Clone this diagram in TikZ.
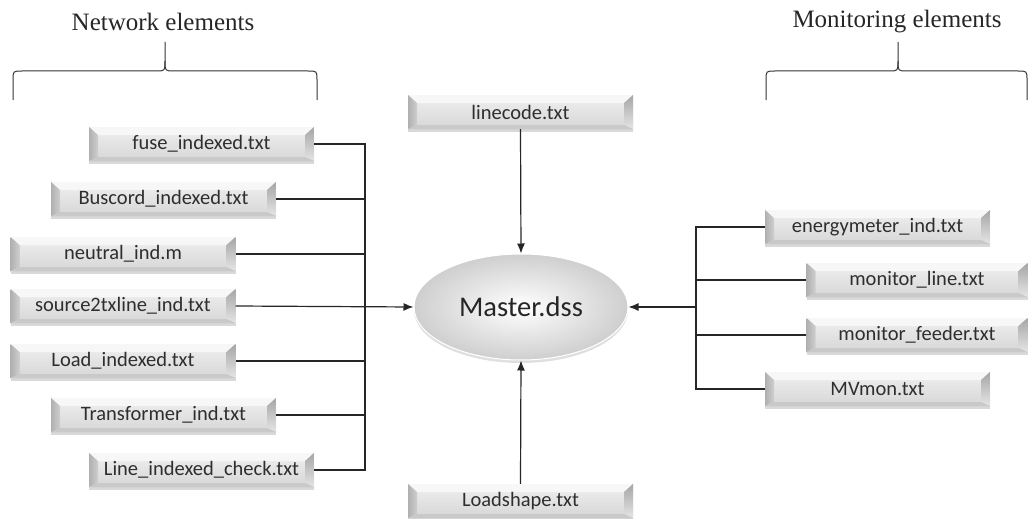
\documentclass[tikz,border=0pt]{standalone}
\usepackage{fontspec}
\newfontfamily\boxfont{Carlito}
\newfontfamily\capfont{Liberation Serif}
\usetikzlibrary{arrows.meta,shadows,shapes.geometric}

\tikzset{
  % grey bevelled file box
  filebox/.style={rectangle, minimum width=225pt, minimum height=34pt, inner sep=0pt,
    font=\boxfont\fontsize{20.5}{24}\selectfont, text=black!82,
    top color=gray!12, bottom color=gray!32,
    drop shadow={shadow xshift=0pt, shadow yshift=-3pt, opacity=0.3},
    path picture={
      % top facet
      \fill[gray!6] (path picture bounding box.north west) -- (path picture bounding box.north east)
        -- ([shift={(-9pt,-8pt)}]path picture bounding box.north east)
        -- ([shift={(9pt,-8pt)}]path picture bounding box.north west) -- cycle;
      % left facet
      \shade[left color=gray!62, right color=gray!38] (path picture bounding box.north west)
        -- ([shift={(9pt,-8pt)}]path picture bounding box.north west)
        -- ([shift={(9pt,4pt)}]path picture bounding box.south west)
        -- (path picture bounding box.south west) -- cycle;
      % right facet
      \shade[top color=gray!70, bottom color=gray!20] (path picture bounding box.north east)
        -- ([shift={(-9pt,-8pt)}]path picture bounding box.north east)
        -- ([shift={(-9pt,4pt)}]path picture bounding box.south east)
        -- (path picture bounding box.south east) -- cycle;
      % bottom facet
      \fill[gray!42] (path picture bounding box.south west)
        -- ([shift={(9pt,4pt)}]path picture bounding box.south west)
        -- ([shift={(-9pt,4pt)}]path picture bounding box.south east)
        -- (path picture bounding box.south east) -- cycle;
    }},
  hub/.style={ellipse, minimum width=214pt, minimum height=106pt, inner sep=0pt,
    font=\boxfont\fontsize{28.5}{32}\selectfont, text=black!85,
    draw=white, line width=1pt,
    shading=radial, inner color=white, outer color=gray!38,
    drop shadow={shadow xshift=0pt, shadow yshift=-3pt, opacity=0.25}},
  link/.style={draw=black!85, line width=1.2pt},
  feed/.style={link, -{Latex[length=10pt,width=8pt]}},
  brace/.style={draw=black!80, line width=1pt},
  caption/.style={font=\capfont\fontsize{25}{28}\selectfont, text=black!85}
}

\begin{document}
\begin{tikzpicture}[x=1pt, y=-1pt]
\useasboundingbox (0,0) rectangle (1028,519);

% headings and braces
\node[caption] (nethead) at (163,22) {Network elements};
\node[caption] (monhead) at (897,22) {Monitoring elements};

\draw[brace] (13,100) -- (13,80) .. controls (13,71) .. (22,71) -- (156,71)
  .. controls (165,71) .. (165,61) -- (165,42);
\draw[brace] (165,61) .. controls (165,71) .. (174,71) -- (308,71)
  .. controls (317,71) .. (317,80) -- (317,100);
\draw[brace] (766,100) -- (766,80) .. controls (766,71) .. (775,71) -- (889,71)
  .. controls (898,71) .. (898,61) -- (898,42);
\draw[brace] (898,61) .. controls (898,71) .. (907,71) -- (1018,71)
  .. controls (1027,71) .. (1027,80) -- (1027,100);

% central file
\node[hub] (master) at (521,307) {Master.dss};

% network element files
\node[filebox] (fuse)  at (201.5,144) {fuse\_indexed.txt};
\node[filebox] (bus)   at (163.5,199) {Buscord\_indexed.txt};
\node[filebox] (neut)  at (123,254) {neutral\_ind.m};
\node[filebox] (src)   at (123,306) {source2txline\_ind.txt};
\node[filebox] (load)  at (123,361) {Load\_indexed.txt};
\node[filebox] (trafo) at (163.5,415) {Transformer\_ind.txt};
\node[filebox] (line)  at (201.5,470) {Line\_indexed\_check.txt};

% top and bottom files
\node[filebox] (lcode)  at (520.5,112) {linecode.txt};
\node[filebox] (lshape) at (520.5,501) {Loadshape.txt};

% monitoring element files
\node[filebox] (emeter) at (877.5,227) {energymeter\_ind.txt};
\node[filebox, minimum width=221pt] (monl) at (917,280) {monitor\_line.txt};
\node[filebox, minimum width=221pt] (monf) at (917,335) {monitor\_feeder.txt};
\node[filebox] (mvmon)  at (877.5,389) {MVmon.txt};

% collector buses
\coordinate (busL) at (365,0);
\coordinate (busR) at (696,0);

% left collector
\draw[link] (fuse.east) -- (fuse.east -| busL) -- (line.east -| busL) -- (line.east);
\draw[link] (bus.east) -- (bus.east -| busL);
\draw[link] (neut.east) -- (neut.east -| busL);
\draw[link] (load.east) -- (load.east -| busL);
\draw[link] (trafo.east) -- (trafo.east -| busL);
\draw[feed] (src.east) -- (master.west);

% vertical feeds
\draw[feed] (lcode.south) -- (master.north);
\draw[feed] (lshape.north) -- (master.south);

% right collector
\draw[link] (emeter.west) -- (emeter.west -| busR) -- (mvmon.west -| busR) -- (mvmon.west);
\draw[link] (monl.west) -- (monl.west -| busR);
\draw[link] (monf.west) -- (monf.west -| busR);
\draw[feed] (master.east -| busR) -- (master.east);
\end{tikzpicture}
\end{document}
